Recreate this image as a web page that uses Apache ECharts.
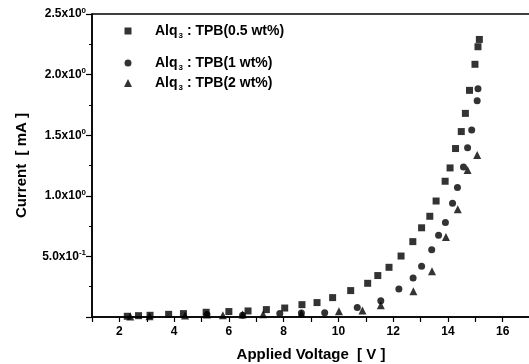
<!DOCTYPE html>
<html><head><meta charset="utf-8">
<script src="https://cdn.jsdelivr.net/npm/echarts@6/dist/echarts.min.js"></script>
<style>html,body{margin:0;padding:0;background:#fff}#c{width:529px;height:364px}</style>
</head><body><div id="c"></div>
<script>
var seriesNames = ['Alq3 : TPB(0.5 wt%)', 'Alq3 : TPB(1 wt%)', 'Alq3 : TPB(2 wt%)'];
var voltSq = [2.29, 2.70, 3.12, 3.80, 4.34, 5.17, 6.00, 6.70, 7.37, 8.04, 8.67, 9.22, 9.79, 10.45, 11.07, 11.44, 11.85, 12.29, 12.72, 13.04, 13.34, 13.57, 13.90, 14.08, 14.28, 14.49, 14.64, 14.79, 14.99, 15.10, 15.15];
var curSq  = [0.006, 0.011, 0.014, 0.022, 0.028, 0.039, 0.045, 0.050, 0.061, 0.074, 0.102, 0.119, 0.160, 0.218, 0.278, 0.342, 0.410, 0.503, 0.622, 0.736, 0.831, 0.957, 1.120, 1.230, 1.390, 1.530, 1.680, 1.870, 2.085, 2.230, 2.290];
var voltCi = [5.20, 6.50, 7.86, 8.65, 9.50, 10.69, 11.55, 12.21, 12.73, 13.04, 13.41, 13.66, 13.91, 14.17, 14.35, 14.57, 14.72, 14.87, 15.07, 15.10];
var curCi  = [0.020, 0.015, 0.028, 0.033, 0.036, 0.078, 0.134, 0.230, 0.321, 0.418, 0.554, 0.674, 0.780, 0.938, 1.068, 1.238, 1.396, 1.542, 1.784, 1.884];
var voltTr = [2.40, 3.10, 4.40, 5.20, 5.78, 6.50, 7.25, 8.65, 10.02, 10.88, 11.55, 12.74, 13.42, 13.93, 14.36, 14.72, 15.07];
var curTr  = [0.004, 0.006, 0.012, 0.020, 0.015, 0.020, 0.022, 0.028, 0.047, 0.053, 0.097, 0.212, 0.377, 0.660, 0.889, 1.213, 1.337];
var yTickVals = [0.5, 1.0, 1.5, 2.0, 2.5];
var yTickMant = ['5.0', '1.0', '1.5', '2.0', '2.5'];
var yTickExp  = ['-1', '0', '0', '0', '0'];
var xTickLabels = ['2', '4', '6', '8', '10', '12', '14', '16'];
var xName = 'Applied Voltage  [ V ]';
var yName = 'Current  [ mA ]';

function pairs(x, y) { return x.map(function (v, i) { return [v, y[i]]; }); }
var FONT = 'Liberation Sans, Arial, sans-serif';
var chart = echarts.init(document.getElementById('c'), null, {renderer: 'canvas'});
var symbols = ['rect', 'circle', 'triangle'];
var sizes = [7, 7, 8];
var legendCenters = [31, 63, 83];
var legends = seriesNames.map(function (n, i) {
  return {
    data: [{name: n, icon: symbols[i]}], left: 128 - sizes[i] / 2, top: legendCenters[i] - 9, orient: 'vertical',
    itemWidth: sizes[i], itemHeight: sizes[i], padding: 0,
    textStyle: {
      fontFamily: FONT, fontSize: 14, color: '#000',
      rich: {
        a: {fontFamily: FONT, fontSize: 14, fontWeight: 'bold', color: '#000', lineHeight: 18},
        s: {fontFamily: FONT, fontSize: 8, fontWeight: 'bold', color: '#000', lineHeight: 18, padding: [10, 0, 0, 1]}
      }
    },
    formatter: function (name) { return '{a|Alq}{s|3}{a|' + name.slice(4) + '}'; }
  };
});
legends.forEach(function (l, i) { l.textStyle.padding = [0, 0, 0, 155 - (128 + sizes[i] / 2) - 5]; });
var option = {
  animation: false,
  backgroundColor: '#fff',
  grid: {left: 92, right: -1, top: 14, bottom: 47, outerBoundsMode: 'none', containLabel: false, show: true, borderColor: '#000', borderWidth: 1.5, backgroundColor: 'transparent'},
  legend: legends,
  xAxis: {
    type: 'value', min: 1, max: 17, interval: 1,
    name: xName, nameLocation: 'middle', nameGap: 30,
    nameTextStyle: {fontFamily: FONT, fontSize: 15, fontWeight: 'bold', color: '#000'},
    axisLine: {lineStyle: {color: '#000', width: 1.5}},
    axisTick: {show: true, length: 5, lineStyle: {color: '#000', width: 1.2}},
    axisLabel: {
      fontFamily: FONT, fontSize: 12, fontWeight: 'bold', color: '#000', margin: 9,
      formatter: function (v) { var i = xTickLabels.indexOf(String(v)); return i >= 0 ? xTickLabels[i] : ''; }
    },
    splitLine: {show: false}
  },
  yAxis: {
    type: 'value', min: 0, max: 2.5, interval: 0.5,
    name: yName, nameLocation: 'middle', nameGap: 63, nameRotate: 90,
    nameTextStyle: {fontFamily: FONT, fontSize: 15, fontWeight: 'bold', color: '#000'},
    axisLine: {lineStyle: {color: '#000', width: 1.5}},
    axisTick: {show: true, length: 6, lineStyle: {color: '#000', width: 1.2}},
    minorTick: {show: true, splitNumber: 2, length: 3, lineStyle: {color: '#000', width: 1}},
    axisLabel: {
      fontFamily: FONT, fontSize: 12, fontWeight: 'bold', color: '#000', margin: 6,
      formatter: function (v) {
        for (var i = 0; i < yTickVals.length; i++) {
          if (Math.abs(v - yTickVals[i]) < 1e-6) return '{m|' + yTickMant[i] + 'x10}{e|' + yTickExp[i] + '}';
        }
        return '';
      },
      rich: {
        m: {fontFamily: FONT, fontSize: 12, fontWeight: 'bold', color: '#000', lineHeight: 14},
        e: {fontFamily: FONT, fontSize: 8, fontWeight: 'bold', color: '#000', lineHeight: 14, padding: [0, 0, 7, 0]}
      }
    },
    splitLine: {show: false}
  },
  series: [
    {name: seriesNames[0], type: 'scatter', symbol: 'rect', symbolSize: 7, itemStyle: {color: '#000'}, data: pairs(voltSq, curSq)},
    {name: seriesNames[1], type: 'scatter', symbol: 'circle', symbolSize: 7, itemStyle: {color: '#000'}, data: pairs(voltCi, curCi)},
    {name: seriesNames[2], type: 'scatter', symbol: 'triangle', symbolSize: 8, itemStyle: {color: '#000'}, data: pairs(voltTr, curTr)}
  ]
};
chart.setOption(option);
</script></body></html>
